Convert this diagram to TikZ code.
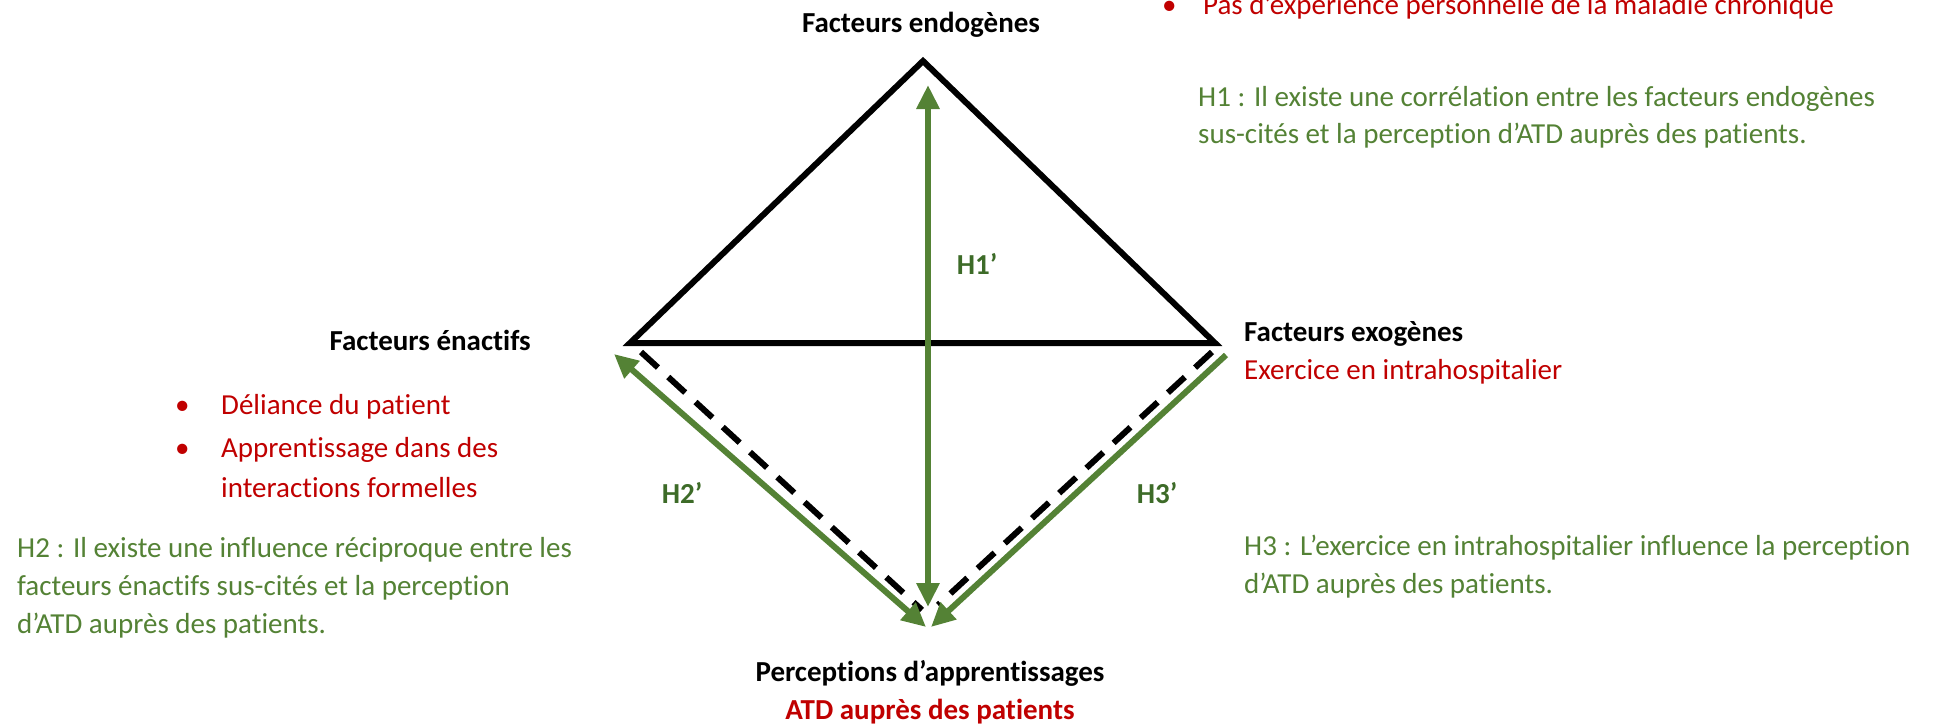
\documentclass[tikz,border=0pt]{standalone}
\usepackage{fontspec}
\setmainfont{Carlito}[Ligatures=NoCommon]
\usetikzlibrary{arrows.meta}
\definecolor{wred}{HTML}{C00000}
\definecolor{wgreen}{HTML}{548235}
\definecolor{dgreen}{HTML}{3D6B28}
\begin{document}
\begin{tikzpicture}[x=1pt,y=-1pt,
  txt/.style={inner sep=0pt,font=\fontsize{29}{38}\selectfont},
  lbl/.style={txt,font=\fontsize{29}{38}\selectfont\bfseries},
  redtxt/.style={txt,text=wred},
  greentxt/.style={txt,text=wgreen},
  hlabel/.style={lbl,text=dgreen},
  tri/.style={draw=black,line width=6pt,line join=miter},
  garrow/.style={draw=wgreen,line width=6pt,-{Triangle[length=24pt,width=22pt]}},
  garrows/.style={draw=wgreen,line width=6pt,{Triangle[length=24pt,width=22pt]}-{Triangle[length=24pt,width=22pt]}},
  dashline/.style={draw=black,line width=6pt,dash pattern=on 23pt off 14pt}]
\useasboundingbox (0,0) rectangle (1944,726);
% triangle corners
\coordinate (A) at (923,61);
\coordinate (L) at (630,343);
\coordinate (R) at (1215,343);
\draw[tri] (A) -- (R) -- (L) -- cycle;
% arrow ends
\coordinate (vtop) at (928,85);
\coordinate (vbot) at (928,607);
\coordinate (gl) at (614,354);
\coordinate (glb) at (926,627);
\coordinate (gr) at (1226,355);
\coordinate (grb) at (931,627);
\coordinate (dl1) at (641,352);
\coordinate (dl2) at (922,610);
\coordinate (dr1) at (1212,352);
\coordinate (dr2) at (938,605);
\draw[dashline] (dl1) -- (dl2);
\draw[dashline] (dr1) -- (dr2);
\draw[garrows] (vtop) -- (vbot);
\draw[garrows] (gl) -- (glb);
\draw[garrow] (gr) -- (grb);
% labels
\node[lbl,anchor=base] (endo) at (921,32) {Facteurs endogènes};
\node[redtxt,anchor=base west] (topb) at (1162,14) {•};
\node[redtxt,anchor=base west] (topt) at (1203,14) {Pas d’expérience personnelle de la maladie chronique};
\node[greentxt,anchor=base west] (h1a) at (1198,106) {H1 : Il existe une corrélation entre les facteurs endogènes};
\node[greentxt,anchor=base west] (h1b) at (1198,143) {sus-cités et la perception d’ATD auprès des patients.};
\node[hlabel,anchor=base] (h1p) at (977,274) {H1’};
\node[hlabel,anchor=base] (h2p) at (682,503) {H2’};
\node[hlabel,anchor=base] (h3p) at (1157,503) {H3’};
\node[lbl,anchor=base east] (enact) at (531,350) {Facteurs énactifs};
\node[redtxt,anchor=base west] (b1) at (175,414) {•};
\node[redtxt,anchor=base west] (e1) at (221,414) {Déliance du patient};
\node[redtxt,anchor=base west] (b2) at (175,457) {•};
\node[redtxt,anchor=base west] (e2) at (221,457) {Apprentissage dans des};
\node[redtxt,anchor=base west] (e3) at (221,497) {interactions formelles};
\node[greentxt,anchor=base west] (h2a) at (17,557) {H2 : Il existe une influence réciproque entre les};
\node[greentxt,anchor=base west] (h2b) at (17,595) {facteurs énactifs sus-cités et la perception};
\node[greentxt,anchor=base west] (h2c) at (17,633) {d’ATD auprès des patients.};
\node[lbl,anchor=base west] (exo) at (1244,341) {Facteurs exogènes};
\node[redtxt,anchor=base west] (exo1) at (1244,379) {Exercice en intrahospitalier};
\node[greentxt,anchor=base west] (h3a) at (1244,555) {H3 : L’exercice en intrahospitalier influence la perception};
\node[greentxt,anchor=base west] (h3b) at (1244,593) {d’ATD auprès des patients.};
\node[lbl,anchor=base] (perc) at (930,681) {Perceptions d’apprentissages};
\node[lbl,anchor=base,text=wred] (atd) at (930,719) {ATD auprès des patients};
\end{tikzpicture}
\end{document}
